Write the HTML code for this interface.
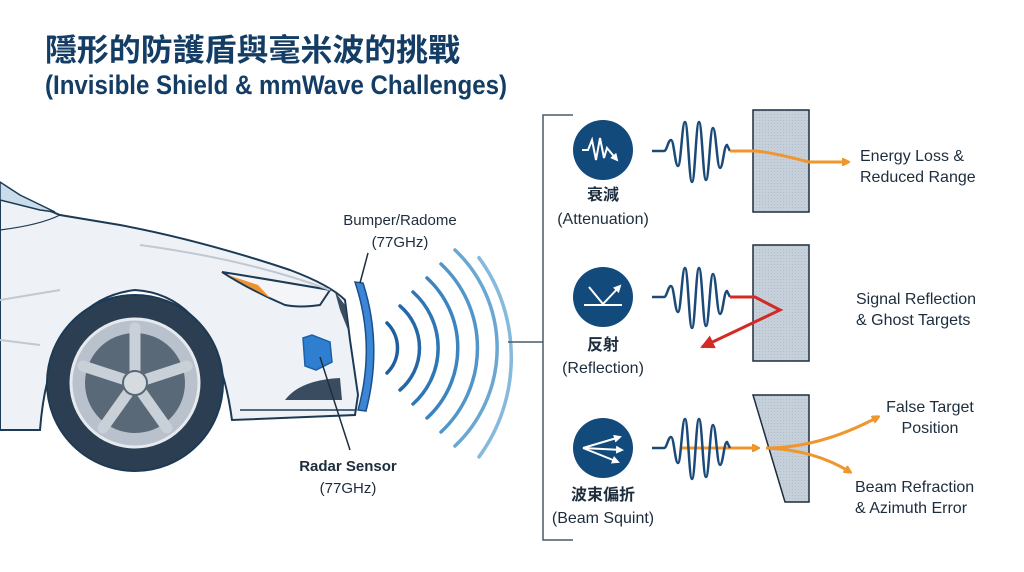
<!DOCTYPE html>
<html><head><meta charset="utf-8"><style>
html,body{margin:0;padding:0;background:#fff;}
svg{display:block;}
text{font-family:"Liberation Sans","Noto Sans CJK TC",sans-serif;}
</style></head><body>
<svg width="1024" height="572" viewBox="0 0 1024 572" xmlns="http://www.w3.org/2000/svg">
<defs>
<marker id="ao" markerWidth="8" markerHeight="8" refX="6" refY="4" orient="auto" markerUnits="userSpaceOnUse"><path d="M0,0 L8,4 L0,8 Z" fill="#f0962e" transform="scale(1.6) translate(-2,-1.5)"/></marker>
<marker id="ar" markerWidth="16" markerHeight="14" refX="12" refY="7" orient="auto" markerUnits="userSpaceOnUse"><path d="M0,0 L14,7 L0,14 Z" fill="#d42a26"/></marker>
<marker id="aw" markerWidth="8" markerHeight="8" refX="6" refY="4" orient="auto" markerUnits="userSpaceOnUse"><path d="M0,0 L8,4 L0,8 Z" fill="#fff"/></marker>
<pattern id="dots" width="3" height="3" patternUnits="userSpaceOnUse"><rect width="3" height="3" fill="#c5d0da"/><rect width="1" height="1" fill="#b2bfcb"/></pattern>
<path id="wv" d="M0,0 L12,0 C15,0 16,-11 19,-11 C22,-11 23,15 26,15 C29,15 30,-29 33,-29 C36,-29 37,31 40,31 C43,31 44,-29 47,-29 C50,-29 51,29 54,29 C57,29 58,-23 61,-23 C64,-23 65,17 68,17 C71,17 72,-6 75,-6 L78,0" fill="none" stroke="#1c4a78" stroke-width="2.5"/>
</defs>
<rect width="1024" height="572" fill="#fff"/>
<text x="45" y="61" font-size="31" font-weight="bold" fill="#143d66" textLength="415" lengthAdjust="spacingAndGlyphs">隱形的防護盾與毫米波的挑戰</text>
<text x="45" y="94" font-size="27" font-weight="bold" fill="#143d66" textLength="462" lengthAdjust="spacingAndGlyphs">(Invisible Shield &amp; mmWave Challenges)</text>

<!-- Car -->
<path d="M0,190 L0,430 L40,430 Q50,300 135,290 Q215,295 232,420 L355,415 L358,395 L350,340 L345,300 Q330,285 290,270 Q200,240 120,225 L60,215 L0,190 Z" fill="#eef2f6" stroke="#1d3a55" stroke-width="2"/>
<path d="M0,182 L20,195 L55,212 L40,210 L0,200 Z" fill="#c9dcec" stroke="#1d3a55" stroke-width="1.5"/>
<path d="M0,230 Q40,225 60,215" fill="none" stroke="#1d3a55" stroke-width="1.2"/>
<path d="M222,272 Q260,278 330,290 L320,305 Q300,308 285,305 Q250,290 222,272 Z" fill="#f3f5f8" stroke="#1d3a55" stroke-width="2"/>
<path d="M228,275 L270,298 L258,285 Z" fill="#f0922c"/>
<path d="M335,292 L345,305 L348,330 L340,310 Z" fill="#3a4d60"/>
<path d="M285,400 Q300,380 340,378 L342,400 Z" fill="#3a4d60"/>
<path d="M0,300 L60,290 M0,340 L40,345 M140,245 Q250,260 330,290" fill="none" stroke="#c0c9d3" stroke-width="2"/>
<path d="M240,410 L355,410" stroke="#1d3a55" stroke-width="1.5"/>
<circle cx="135" cy="383" r="88" fill="#2c3f52" stroke="#1d3a55" stroke-width="2"/>
<circle cx="135" cy="383" r="64" fill="#b9c2cc" stroke="#e6eaee" stroke-width="3"/>
<circle cx="135" cy="383" r="50" fill="#5a6977"/>
<g stroke="#c9d0d7" stroke-width="11" stroke-linecap="round">
<line x1="135" y1="383" x2="135" y2="328"/>
<line x1="135" y1="383" x2="187" y2="366"/>
<line x1="135" y1="383" x2="167" y2="428"/>
<line x1="135" y1="383" x2="103" y2="428"/>
<line x1="135" y1="383" x2="83" y2="366"/>
</g>
<circle cx="135" cy="383" r="12" fill="#d6dbe0" stroke="#5a6977" stroke-width="2"/>
<path d="M303,338 L312,335 L330,342 L332,362 L316,370 L305,366 Z" fill="#2f7fd0" stroke="#1e5fa8" stroke-width="1.5"/>
<line x1="320" y1="357" x2="350" y2="450" stroke="#1d2d3d" stroke-width="1.5"/>
<path d="M355,282 Q376,345 358,410 L366,411 Q383,345 363,283 Z" fill="#3b86d6" stroke="#1b4e8a" stroke-width="1.5"/>
<line x1="368" y1="253" x2="360" y2="283" stroke="#1d2d3d" stroke-width="1.5"/>
<g fill="none" stroke-width="3.5" stroke-linecap="round">
<path d="M387,323 A35,35 0 0 1 387,373" stroke="#1f5f9e"/>
<path d="M400,306 A55,55 0 0 1 400,390" stroke="#2568a8"/>
<path d="M413,292 A75,75 0 0 1 413,404" stroke="#2f76b4"/>
<path d="M427,278 A95,95 0 0 1 427,418" stroke="#3c84bf"/>
<path d="M441,264 A115,115 0 0 1 441,432" stroke="#5296c9"/>
<path d="M455,250 A135,135 0 0 1 455,446" stroke="#6aa8d3"/>
<path d="M469,254 A150,150 0 0 1 469,440" stroke="#86badd" transform="translate(10,-14) scale(1,1.07)"/>
</g>
<text x="400" y="225" font-size="15" fill="#1d2d3d" text-anchor="middle">Bumper/Radome</text>
<text x="400" y="247" font-size="15" fill="#1d2d3d" text-anchor="middle">(77GHz)</text>
<text x="348" y="471" font-size="15" font-weight="bold" fill="#1d2d3d" text-anchor="middle">Radar Sensor</text>
<text x="348" y="493" font-size="15" fill="#1d2d3d" text-anchor="middle">(77GHz)</text>

<path d="M573,115 L543,115 L543,540 L573,540 M508,342 L543,342" fill="none" stroke="#4a5a6a" stroke-width="1.5"/>

<circle cx="603" cy="150" r="30" fill="#134a7c"/>
<path d="M582,150 L588,150 L592,140 L596,160 L600,138 L604,158 L607,148 L617,160" fill="none" stroke="#fff" stroke-width="2" marker-end="url(#aw)"/>
<circle cx="603" cy="297" r="30" fill="#134a7c"/>
<path d="M584,305 L622,305 M589,287 L603,304" fill="none" stroke="#fff" stroke-width="2"/>
<path d="M603,304 L620,286" stroke="#fff" stroke-width="2" marker-end="url(#aw)"/>
<circle cx="603" cy="448" r="30" fill="#134a7c"/>
<g stroke="#fff" stroke-width="2" fill="none">
<path d="M583,448 L620,437" marker-end="url(#aw)"/>
<path d="M583,448 L622,450" marker-end="url(#aw)"/>
<path d="M583,448 L618,462" marker-end="url(#aw)"/>
</g>
<g font-size="16" fill="#1d2d3d" text-anchor="middle">
<text x="603" y="200" font-weight="bold">衰減</text>
<text x="603" y="224">(Attenuation)</text>
<text x="603" y="350" font-weight="bold">反射</text>
<text x="603" y="373">(Reflection)</text>
<text x="603" y="500" font-weight="bold">波束偏折</text>
<text x="603" y="523">(Beam Squint)</text>
</g>

<rect x="753" y="110" width="56" height="102" fill="url(#dots)" stroke="#1d2d3d" stroke-width="1.5"/>
<rect x="753" y="245" width="56" height="116" fill="url(#dots)" stroke="#1d2d3d" stroke-width="1.5"/>
<path d="M753,395 L809,395 L809,502 L785,502 Z" fill="url(#dots)" stroke="#1d2d3d" stroke-width="1.5"/>

<use href="#wv" x="652" y="151"/>
<path d="M730,151 L755,151 Q770,152 809,162 L848,162" fill="none" stroke="#f0962e" stroke-width="3" marker-end="url(#ao)"/>
<use href="#wv" x="652" y="297"/>
<path d="M730,297 L755,297 L780,310 L702,347" fill="none" stroke="#d42a26" stroke-width="3" marker-end="url(#ar)"/>
<path d="M680,448 L758,448" stroke="#f0962e" stroke-width="3" marker-end="url(#ao)"/>
<use href="#wv" x="652" y="448"/>
<path d="M766,448 Q820,448 878,417" fill="none" stroke="#f0962e" stroke-width="3" marker-end="url(#ao)"/>
<path d="M766,448 Q815,450 850,472" fill="none" stroke="#f0962e" stroke-width="3" marker-end="url(#ao)"/>

<g font-size="16" fill="#1d2d3d">
<text x="860" y="161">Energy Loss &amp;</text>
<text x="860" y="182">Reduced Range</text>
<text x="856" y="304">Signal Reflection</text>
<text x="856" y="325">&amp; Ghost Targets</text>
<text x="930" y="412" text-anchor="middle">False Target</text>
<text x="930" y="433" text-anchor="middle">Position</text>
<text x="855" y="492">Beam Refraction</text>
<text x="855" y="513">&amp; Azimuth Error</text>
</g>
</svg>
</body></html>
